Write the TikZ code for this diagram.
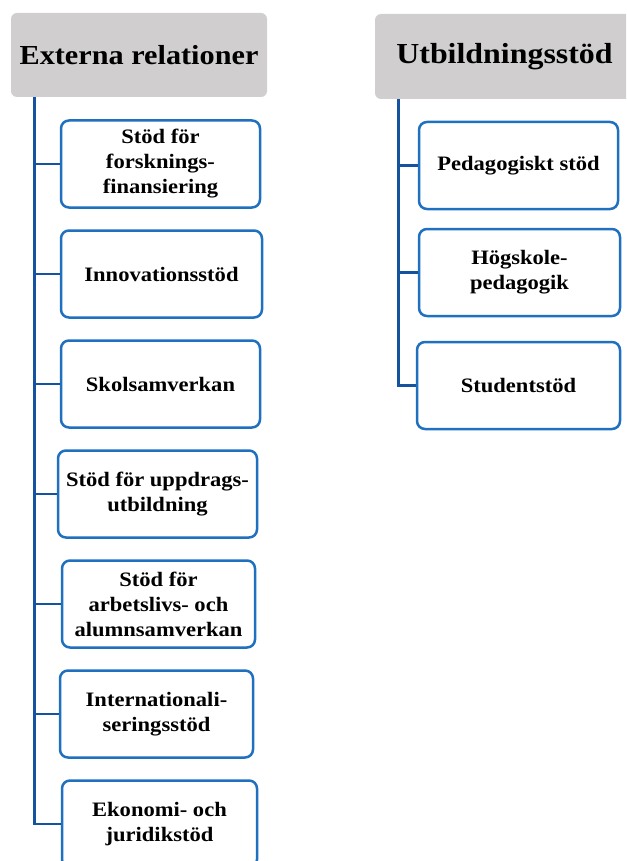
\documentclass[tikz,border=0pt]{standalone}
\usepackage{fontspec}
\setmainfont{Liberation Serif}[FakeStretch=1.1]
\usepackage{tikz}
\usetikzlibrary{arrows}
\definecolor{headgray}{HTML}{D0CECE}
\definecolor{trunkblue}{HTML}{1552A0}
\definecolor{boxblue}{HTML}{2070C0}
\tikzstyle{header} = [rectangle, rounded corners=6pt, minimum width=256pt, minimum height=84pt, text centered, fill=headgray, font=\fontsize{27.5}{32}\selectfont\bfseries]
\tikzstyle{unit} = [rectangle, rounded corners=8pt, minimum width=199pt, minimum height=87pt, align=center, draw=boxblue, line width=2.5pt, fill=white, font=\fontsize{20.5}{25}\selectfont\bfseries]
\tikzstyle{link} = [trunkblue, line width=2.8pt]

\begin{document}
\begin{tikzpicture}[x=1pt, y=1pt, node distance=110pt]
		\useasboundingbox (0,0) rectangle (626,-861);
		\clip (0,0) rectangle (626,-861);
		\node (ext) [header] at (139,-55) {Externa relationer};
		\node (utb) [header, minimum width=259pt, minimum height=85pt, font=\fontsize{29}{32}\selectfont\bfseries] at (504.5,-56.5) {Utbildningsstöd};
		\coordinate (extroot) at ([xshift=24pt]ext.south west);
		\coordinate (utbroot) at ([xshift=24pt]utb.south west);

		\node (forsk) [unit] at (160.5,-164) {Stöd för\\forsknings-\\finansiering};
		\node (innov) [unit, below of=forsk, xshift=1pt, minimum width=201pt] {Innovationsstöd};
		\node (skol) [unit, below of=innov, xshift=-1pt] {Skolsamverkan};
		\node (uppdrag) [unit, below of=skol, xshift=-3pt] {Stöd för uppdrags-\\utbildning};
		\node (alumn) [unit, below of=uppdrag, xshift=1pt, minimum width=193pt] {Stöd för\\arbetslivs- och\\alumnsamverkan};
		\node (inter) [unit, below of=alumn, xshift=-2pt, minimum width=193pt] {Internationali-\\seringsstöd};
		\node (ekon) [unit, below of=inter, xshift=3pt, minimum width=195pt] {Ekonomi- och\\juridikstöd};

		\node (ped) [unit] at (518.5,-165.5) {Pedagogiskt stöd};
		\node (hogsk) [unit, below of=ped, yshift=3pt, xshift=1pt, minimum width=201pt] {Högskole-\\pedagogik};
		\node (stud) [unit, below of=hogsk, yshift=-3pt, xshift=-1pt, minimum width=203pt] {Studentstöd};

		\draw [link] (extroot) |- (forsk.west);
		\draw [link] (extroot) |- (innov.west);
		\draw [link] (extroot) |- (skol.west);
		\draw [link] (extroot) |- (uppdrag.west);
		\draw [link] (extroot) |- (alumn.west);
		\draw [link] (extroot) |- (inter.west);
		\draw [link] (extroot) |- (ekon.west);
		\draw [link] (utbroot) |- (ped.west);
		\draw [link] (utbroot) |- (hogsk.west);
		\draw [link] (utbroot) |- (stud.west);
	\end{tikzpicture}
\end{document}
